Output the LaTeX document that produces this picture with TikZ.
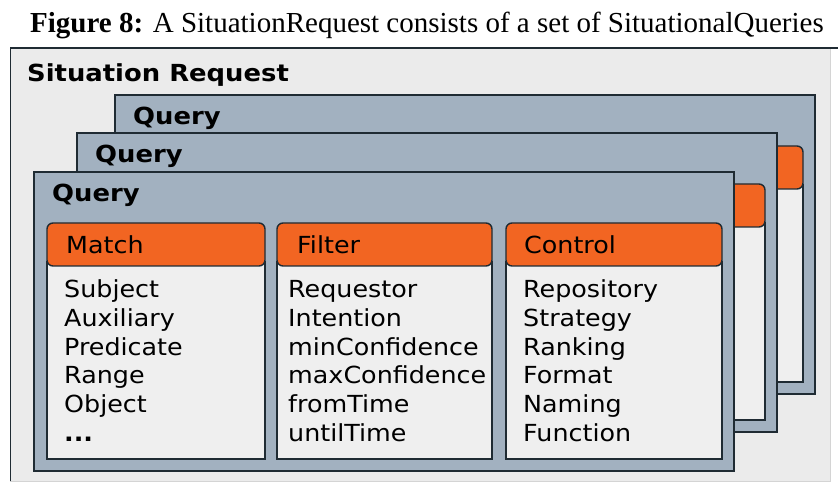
\documentclass[tikz,border=0pt]{standalone}
\usepackage{fontspec}
\setmainfont{Liberation Serif}
\newfontfamily\uifont[FakeStretch=1.08]{DejaVu Sans}
\newfontfamily\uibold[FakeStretch=1.1]{DejaVu Sans Bold}

\definecolor{qfill}{HTML}{A2B1C0}
\definecolor{hdrorange}{HTML}{F26522}
\definecolor{bodyfill}{HTML}{EFEFEF}
\definecolor{panelfill}{HTML}{EBEBEB}
\definecolor{edge}{HTML}{1F2B33}
\definecolor{softedge}{HTML}{D4D4D4}

\tikzset{
  qframe/.style={draw=edge, fill=qfill, line width=1.6pt},
  bodybox/.style={draw=edge, fill=bodyfill, line width=1.4pt},
  headbox/.style={draw=edge, fill=hdrorange, line width=1.4pt, rounded corners=6pt},
  qtitle/.style={anchor=base west, inner sep=0pt, font=\uibold\fontsize{23.5}{23.5}\selectfont},
  hdrtext/.style={anchor=base west, inner sep=0pt, font=\uifont\fontsize{23.5}{23.5}\selectfont},
  itemtext/.style={anchor=base west, inner sep=0pt, font=\uifont\fontsize{23.5}{23.5}\selectfont},
}

% One query card: frame plus the three column boxes, shifted by (#1,#2)
\newcommand\querycard[3]{%
  \begin{scope}[shift={(#1,#2)}]
    \draw[qframe] (34,172) rectangle (734,471);
    \foreach \l/\r in {47/265, 277/492, 506/722} {
      \draw[bodybox] (\l,262) rectangle (\r,459);
      \draw[headbox] (\l,223) rectangle (\r,266);
    }
    \node[qtitle] (#3) at (52,202) {Query};
  \end{scope}}

\begin{document}
\begin{tikzpicture}[x=1pt, y=-1pt]
  \useasboundingbox (0,0) rectangle (838,486);

  % caption
  \node[anchor=base west, inner sep=0pt, font=\fontsize{29}{29}\selectfont]
    (caption) at (30,33) {\textbf{Figure 8:} A SituationRequest consists of a set of SituationalQueries};

  % outer situation request panel
  \fill[panelfill] (10,48) rectangle (830,481);
  \draw[softedge, line width=1pt] (830,48) -- (830,481) -- (10,481);
  \draw[edge, line width=1pt] (10,481) -- (10,48);
  \draw[edge, line width=2.5pt] (10,48) -- (838,48);
  \node[qtitle] (srtitle) at (27,82) {Situation Request};

  % stacked queries, back to front
  \querycard{81}{-77}{qthree}
  \querycard{43}{-39}{qtwo}
  \querycard{0}{0}{qone}

  % column headers of the front query
  \node[hdrtext] (hmatch)   at (66,254)  {Match};
  \node[hdrtext] (hfilter)  at (297,254) {Filter};
  \node[hdrtext] (hcontrol) at (524,254) {Control};

  % column entries
  \foreach \t [count=\i from 0] in {Subject, Auxiliary, Predicate, Range, Object, \textbf{...}}
    \node[itemtext] (m\i) at (64,298+28.6*\i) {\t};
  \foreach \t [count=\i from 0] in {Requestor, Intention, minConfidence, maxConfidence, fromTime, untilTime}
    \node[itemtext] (f\i) at (288,298+28.6*\i) {\t};
  \foreach \t [count=\i from 0] in {Repository, Strategy, Ranking, Format, Naming, Function}
    \node[itemtext] (c\i) at (523,298+28.6*\i) {\t};
\end{tikzpicture}
\end{document}
